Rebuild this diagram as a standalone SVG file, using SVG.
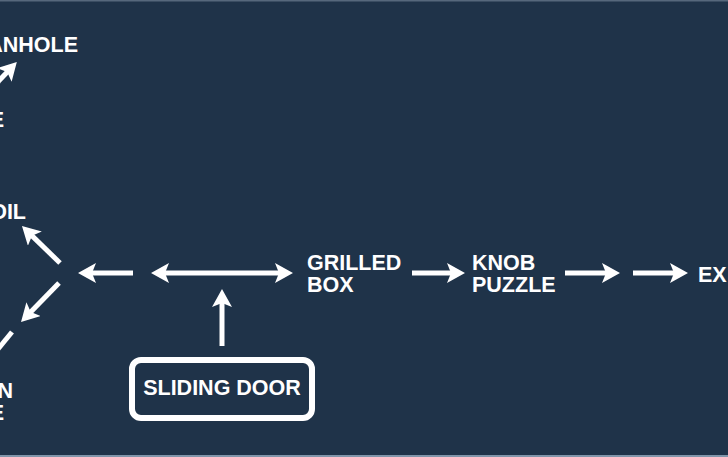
<svg xmlns="http://www.w3.org/2000/svg" width="728" height="457" viewBox="0 0 728 457">
  <style>
    .lbl { font-family: "Liberation Sans", Arial, sans-serif; font-weight: bold; font-size: 21.5px; fill: #ffffff; }
    .edge { stroke: #ffffff; stroke-width: 5; fill: none; }
    .box { fill: none; stroke: #ffffff; stroke-width: 6; }
  </style>
  <defs>
    <marker id="ah" markerUnits="userSpaceOnUse" viewBox="0 -10 18 20" refX="10" refY="0" markerWidth="18" markerHeight="20" orient="auto-start-reverse">
      <path d="M0,-10 L18,0 L0,10 L4,0 Z" fill="#ffffff"/>
    </marker>
  </defs>
  <rect x="0" y="0" width="728" height="457" fill="#1f3349"/>
  <rect x="0" y="0" width="728" height="1.5" fill="#56687c"/>
  <rect x="0" y="455" width="728" height="2" fill="#8095aa"/>

  <g id="n-manhole"><text class="lbl" x="78" y="52" text-anchor="end">ANHOLE</text></g>
  <g id="n-upper-e"><text class="lbl" x="4" y="127" text-anchor="end">E</text></g>
  <g id="n-oil"><text class="lbl" x="26" y="219" text-anchor="end">OIL</text></g>
  <g id="n-lower"><text class="lbl" x="13" y="398" text-anchor="end">N</text><text class="lbl" x="4" y="420" text-anchor="end">E</text></g>
  <g id="n-grilled"><text class="lbl" x="307" y="270">GRILLED</text><text class="lbl" x="307" y="292">BOX</text></g>
  <g id="n-knob"><text class="lbl" x="472" y="270">KNOB</text><text class="lbl" x="472" y="292">PUZZLE</text></g>
  <g id="n-exit"><text class="lbl" x="698" y="282">EX</text></g>
  <g id="n-sliding">
    <rect class="box" x="132" y="360" width="180" height="58" rx="9"/>
    <text class="lbl" x="222" y="395" text-anchor="middle">SLIDING DOOR</text>
  </g>

  <g id="connectors">
    <line class="edge" x1="-10" y1="90" x2="11.3" y2="67.7" marker-end="url(#ah)"/>
    <line class="edge" x1="60" y1="263" x2="27.7" y2="231.6" marker-end="url(#ah)"/>
    <line class="edge" x1="59" y1="283" x2="26.6" y2="316.3" marker-end="url(#ah)"/>
    <line class="edge" x1="12" y1="332" x2="-2" y2="349"/>
    <line class="edge" x1="133" y1="273" x2="86" y2="273" marker-end="url(#ah)"/>
    <line class="edge" x1="159" y1="273" x2="285" y2="273" marker-start="url(#ah)" marker-end="url(#ah)"/>
    <line class="edge" x1="222" y1="346" x2="222" y2="297" marker-end="url(#ah)"/>
    <line class="edge" x1="412" y1="273" x2="457" y2="273" marker-end="url(#ah)"/>
    <line class="edge" x1="565" y1="273" x2="612" y2="273" marker-end="url(#ah)"/>
    <line class="edge" x1="633" y1="273" x2="680" y2="273" marker-end="url(#ah)"/>
  </g>
</svg>
